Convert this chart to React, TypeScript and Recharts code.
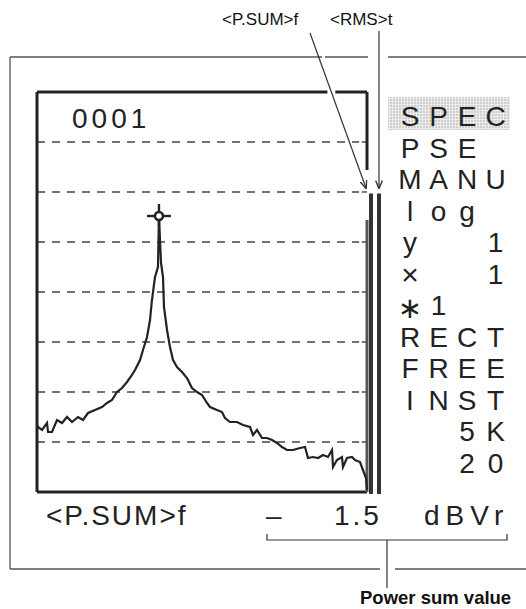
import React from 'react';
import { ComposedChart, Line, XAxis, YAxis, ReferenceLine, ReferenceDot, BarChart, Bar } from 'recharts';

// Spectrum trace (frequency in Hz, level in dBV)
const freqHz = [
  0, 15, 76, 152, 167, 227, 303, 379, 455, 530, 621, 697, 773, 879, 985, 1061, 1136, 1212, 1288, 1364,
  1439, 1485, 1561, 1606, 1667, 1712, 1742, 1788, 1833, 1848, 1879, 1909, 1924, 1970, 2015, 2061, 2121, 2197,
  2273, 2348, 2424, 2500, 2576, 2621, 2727, 2803, 2848, 2924, 3030, 3121, 3227, 3273, 3333, 3409, 3485, 3561,
  3636, 3712, 3788, 3879, 3985, 4061, 4106, 4182, 4258, 4333, 4409, 4470, 4485, 4545, 4621, 4636, 4697, 4773,
  4818, 4894, 4939, 4985, 5000,
];
const levelDb = [
  -66.6, -67.0, -67.6, -66.2, -68.0, -68.0, -65.6, -66.2, -65.0, -66.0, -65.0, -65.6, -64.2, -63.6, -63.0, -62.2, -61.6, -60.0, -59.2, -58.0,
  -56.6, -55.6, -53.6, -51.6, -49.0, -45.6, -41.6, -37.0, -35.0, -24.8, -34.2, -37.0, -43.0, -47.6, -51.0, -53.6, -55.0, -56.0,
  -57.2, -59.2, -60.0, -60.6, -62.2, -63.0, -63.6, -64.0, -65.2, -66.0, -66.0, -66.6, -67.0, -68.6, -67.6, -69.2, -69.2, -69.6,
  -70.2, -71.0, -71.6, -71.6, -71.2, -71.0, -73.2, -73.0, -73.2, -72.6, -73.0, -71.6, -75.0, -73.6, -73.0, -75.0, -73.2, -73.0,
  -73.6, -74.0, -75.6, -77.2, -79.6,
];

// Level bars at right of the display
const levelNames = ['P.SUM', 'RMS'];
const levelTops = [-20.2, -20.2];
const floorDb = -80;
const topDb = 0;
const spanHz = 5000;
const gridLevels = [-10, -20, -30, -40, -50, -60, -70];

// Texts
const counterText = '0001';
const menuRows = ['SPEC', 'PSE', 'MANU', 'log', 'y  1', '×  1', '∗1', 'RECT', 'FREE', 'INST', '  5K', '  20'];
const bottomParts = ['<P.SUM>f', '–', '1.5', 'dBVr'];
const calloutTop = ['<P.SUM>f', '<RMS>t'];
const calloutBottom = 'Power sum value';

const traceData = freqHz.map((f, i) => ({ f, db: levelDb[i] }));
const barData = levelNames.map((n, i) => ({ name: n, range: [floorDb, levelTops[i]] }));

const ink = '#222';
const FONT = '"Liberation Sans", Arial, Helvetica, sans-serif';

const peakIdx = levelDb.indexOf(Math.max(...levelDb));

const PeakMarker = (props: any) => {
  const { cx, cy } = props;
  if (cx == null || cy == null) return null;
  return (
    <g stroke={ink} fill="none">
      <circle cx={cx} cy={cy} r={4} strokeWidth={2.6} fill="#fff" />
      <line x1={cx - 12} y1={cy} x2={cx - 4} y2={cy} strokeWidth={2.4} />
      <line x1={cx + 4} y1={cy} x2={cx + 12} y2={cy} strokeWidth={2.4} />
      <line x1={cx} y1={cy - 12} x2={cx} y2={cy - 4} strokeWidth={2.4} />
      <line x1={cx} y1={cy + 4} x2={cx} y2={cy + 10} strokeWidth={2.4} />
    </g>
  );
};

const colCenters = [410, 438.5, 467, 495.5];
const rowTop = 126;
const rowPitch = 31.5;

export default function App() {
  const W = 526;
  const H = 609;
  return (
    <div style={{ position: 'absolute', left: 0, top: 0, width: W, height: H, background: '#fff', overflow: 'hidden' }}>
      <div style={{ position: 'absolute', left: 0, top: 0 }}>
        <ComposedChart width={W} height={H} data={traceData} margin={{ top: 92, left: 37, right: W - 367, bottom: H - 492 }}>
          <XAxis dataKey="f" type="number" domain={[0, spanHz]} hide />
          <YAxis type="number" domain={[floorDb, topDb]} hide />
          {gridLevels.map((g) => (
            <ReferenceLine key={'g' + g} segment={[{ x: 0, y: g }, { x: 4880, y: g }]} stroke="#444" strokeWidth={1.4} strokeDasharray="8 7" />
          ))}
          {gridLevels.map((g) => (
            <ReferenceLine key={'t' + g} segment={[{ x: 4920, y: g }, { x: spanHz, y: g }]} stroke="#444" strokeWidth={1.4} />
          ))}
          <ReferenceLine segment={[{ x: 0, y: floorDb }, { x: 0, y: topDb }]} stroke={ink} strokeWidth={3} />
          <ReferenceLine segment={[{ x: 0, y: floorDb }, { x: spanHz, y: floorDb }]} stroke={ink} strokeWidth={3} />
          <ReferenceLine segment={[{ x: 0, y: topDb }, { x: 4400, y: topDb }]} stroke={ink} strokeWidth={3} />
          <ReferenceLine segment={[{ x: 4520, y: topDb }, { x: spanHz, y: topDb }]} stroke={ink} strokeWidth={3} />
          <ReferenceLine segment={[{ x: spanHz, y: topDb }, { x: spanHz, y: -15.6 }]} stroke={ink} strokeWidth={3} />
          <ReferenceLine segment={[{ x: spanHz, y: -25.6 }, { x: spanHz, y: floorDb }]} stroke="#555" strokeWidth={3} />
          <Line dataKey="db" type="linear" stroke={ink} strokeWidth={2.2} dot={false} isAnimationActive={false} />
          <ReferenceDot x={freqHz[peakIdx]} y={levelDb[peakIdx]} r={4} shape={PeakMarker} />
        </ComposedChart>
      </div>
      <div style={{ position: 'absolute', left: 367, top: 0 }}>
        <BarChart width={16} height={H} data={barData} margin={{ top: 92, left: 0, right: 0, bottom: H - 494 }} barCategoryGap={0}>
          <XAxis dataKey="name" hide />
          <YAxis type="number" domain={[floorDb, topDb]} hide />
          <Bar dataKey="range" barSize={4} fill="#333" isAnimationActive={false} />
        </BarChart>
      </div>
      <svg width={W} height={H} style={{ position: 'absolute', left: 0, top: 0, pointerEvents: 'none' }}>
        <defs>
          <pattern id="dots" width="3" height="3" patternUnits="userSpaceOnUse">
            <rect width="3" height="3" fill="#ececec" />
            <circle cx="1" cy="1" r="0.8" fill="#a8a8a8" />
          </pattern>
          <marker id="arr" viewBox="0 0 10 10" refX="9" refY="5" markerWidth="7" markerHeight="9" orient="auto-start-reverse">
            <path d="M0,1 L10,5 L0,9" fill="none" stroke="#333" strokeWidth="1.6" />
          </marker>
        </defs>
        {/* outer frame */}
        <g stroke="#555" strokeWidth={1.3} fill="none">
          <line x1={10} y1={57} x2={322} y2={57} />
          <line x1={325} y1={57} x2={368} y2={57} />
          <line x1={388} y1={57} x2={526} y2={57} />
          <line x1={10} y1={57} x2={10} y2={569} />
          <line x1={10} y1={569} x2={380} y2={569} />
          <line x1={395} y1={569} x2={526} y2={569} />
        </g>
        {/* callouts */}
        <g fill="#111" fontFamily={FONT} fontSize={17}>
          <text x={222} y={25}>{calloutTop[0]}</text>
          <text x={330} y={25}>{calloutTop[1]}</text>
        </g>
        <text x={360} y={604} fill="#111" fontFamily={FONT} fontSize={18.5} fontWeight="bold">{calloutBottom}</text>
        <g stroke="#333" strokeWidth={1.2} fill="none">
          <line x1={310} y1={33} x2={366} y2={188} markerEnd="url(#arr)" />
          <line x1={379} y1={31} x2={379} y2={188} markerEnd="url(#arr)" />
          <path d="M267,534 L267,540 L507,540 L507,534" />
          <line x1={387} y1={540} x2={387} y2={588} />
        </g>
        {/* highlight */}
        <rect x={388} y={97} width={122} height={33} fill="url(#dots)" />
        <text x={72} y={128} fill={ink} fontFamily={FONT} fontSize={28} letterSpacing={4}>{counterText}</text>
        <g fill={ink} fontFamily={`${FONT}, "DejaVu Sans"`} fontSize={28} textAnchor="middle">
          {menuRows.map((row, r) =>
            row.split('').map((ch, c) =>
              ch === ' ' ? null : (
                <text
                  key={r + '-' + c}
                  x={colCenters[c]}
                  y={rowTop + r * rowPitch + (ch === '∗' ? 3 : ch === '×' ? 1 : 0)}
                  fontSize={ch === '∗' ? 29 : ch === '×' ? 30 : 28}
                >
                  {ch}
                </text>
              )
            )
          )}
        </g>
        <g fill={ink} fontFamily={FONT} fontSize={28}>
          <text x={46} y={525} letterSpacing={2}>{bottomParts[0]}</text>
          <text x={266} y={525}>{bottomParts[1]}</text>
          <text x={334} y={525} letterSpacing={3}>{bottomParts[2]}</text>
          <text x={424} y={525} letterSpacing={6}>{bottomParts[3]}</text>
        </g>
      </svg>
    </div>
  );
}
